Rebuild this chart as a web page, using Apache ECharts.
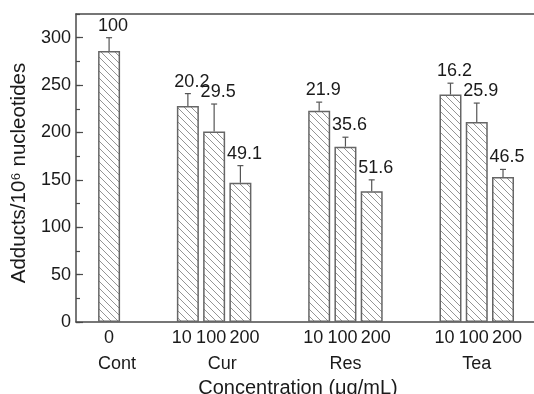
<!DOCTYPE html>
<html>
<head>
<meta charset="utf-8">
<script src="https://cdn.jsdelivr.net/npm/echarts@6/dist/echarts.min.js"></script>
<style>
  html, body { margin: 0; padding: 0; background: #fff; }
  #chart { width: 534px; height: 394px; }
</style>
</head>
<body>
<div id="chart"></div>
<script>
// Treatment groups and the concentration of each bar
const groups = ['Cont', 'Cur', 'Res', 'Tea'];
const barGroup = [0, 1, 1, 1, 2, 2, 2, 3, 3, 3];
const doses = ['0', '10', '100', '200', '10', '100', '200', '10', '100', '200'];
// bar slot on the x axis (gaps between groups)
const xPos = [0, 3, 4, 5, 8, 9, 10, 13, 14, 15];
// adducts per 10^6 nucleotides, upper error and % inhibition shown above bars
const adducts = [286, 228, 201, 147, 223, 185, 138, 240, 211, 153];
const errors = [14, 13, 29, 18, 9, 10, 12, 12, 20, 8];
const inhibition = ['100', '20.2', '29.5', '49.1', '21.9', '35.6', '51.6', '16.2', '25.9', '46.5'];

const X_MIN = -1.26;
const X_MAX = 16.18;
const FONT = '"Liberation Sans", Arial, sans-serif';
const INK = '#1a1a1a';
const LINE = '#4a4a4a';

// diagonal hatch tile for the bars
const tile = document.createElement('canvas');
tile.width = tile.height = 7;
const tc = tile.getContext('2d');
tc.strokeStyle = '#959595';
tc.lineWidth = 1;
tc.beginPath();
[-7, 0, 7].forEach(k => { tc.moveTo(k, 0); tc.lineTo(k + 7, 7); });
tc.stroke();

// role of each bar inside its group, used to spread the crowded tick labels
function role(i) {
  const g = barGroup[i];
  const members = barGroup.map((b, j) => b === g ? j : -1).filter(j => j >= 0);
  if (members.length === 1) return 's';
  const k = members.indexOf(i);
  return k === 0 ? 'l' : (k === members.length - 1 ? 'r' : 'm');
}

// the first two group names sit a little right of their middle bar
const nameStyle = g => (g < 2 ? 'gr' : 'g');

const lbl = extra => Object.assign({ fontSize: 18, fontFamily: FONT, color: INK, lineHeight: 25 }, extra);

const chart = echarts.init(document.getElementById('chart'));

const option = {
  animation: false,
  backgroundColor: '#fff',
  grid: { left: 76, right: 0, top: 14, bottom: 72, outerBoundsMode: 'none' },
  xAxis: [
    {
      type: 'value',
      min: X_MIN,
      max: X_MAX,
      position: 'bottom',
      axisLine: { show: true, onZero: false, lineStyle: { color: LINE, width: 1.5 } },
      axisTick: { show: false },
      splitLine: { show: false },
      axisLabel: {
        // trailing empty label at the axis end so no real label counts as the max one
        customValues: xPos.concat([X_MAX]),
        hideOverlap: false,
        margin: 4,
        color: INK,
        fontFamily: FONT,
        fontSize: 18,
        formatter: v => {
          const i = xPos.indexOf(v);
          if (i < 0) return '';
          const r = role(i);
          let s = '{' + r + '|' + doses[i] + '}';
          if (r === 'm' || r === 's') s += '\n{' + nameStyle(barGroup[i]) + '|' + groups[barGroup[i]] + '}';
          return s;
        },
        rich: {
          l: lbl({ padding: [0, 12, 0, 0] }),
          m: lbl({ padding: [0, 6, 0, 0] }),
          r: lbl({ padding: [0, 0, 0, 8] }),
          s: lbl({}),
          g: lbl({ lineHeight: 27 }),
          gr: lbl({ lineHeight: 27, padding: [0, 0, 0, 16] })
        }
      },
      name: 'Concentration (μg/mL)',
      nameLocation: 'middle',
      nameGap: 49,
      nameTextStyle: { fontSize: 20, fontFamily: FONT, color: INK, padding: [0, 14, 0, 0] }
    },
    {
      type: 'value',
      min: X_MIN,
      max: X_MAX,
      position: 'top',
      axisLine: { show: true, onZero: false, lineStyle: { color: LINE, width: 1.5 } },
      axisTick: { show: false },
      axisLabel: { show: false },
      splitLine: { show: false }
    }
  ],
  yAxis: [
    {
      type: 'value',
      min: 0,
      max: 325,
      interval: 50,
      position: 'left',
      axisLine: { show: true, onZero: false, lineStyle: { color: LINE, width: 1.5 } },
      axisTick: { show: true, inside: true, length: 7, lineStyle: { color: LINE, width: 1.2 } },
      splitLine: { show: false },
      axisLabel: {
        showMaxLabel: false,
        margin: 5,
        color: INK,
        fontFamily: FONT,
        fontSize: 18
      },
      name: 'Adducts/10⁶ nucleotides',
      nameLocation: 'middle',
      nameGap: 45,
      nameTextStyle: { fontSize: 20.5, fontFamily: FONT, color: INK, padding: [0, 10, 0, 0] }
    },
    {
      type: 'value',
      min: 0,
      max: 325,
      interval: 25,
      position: 'left',
      axisLine: { show: false, onZero: false },
      axisTick: { show: true, inside: true, length: 4, lineStyle: { color: LINE, width: 1.2 } },
      axisLabel: { show: false },
      splitLine: { show: false }
    }
  ],
  series: [
    {
      type: 'bar',
      xAxisIndex: 0,
      yAxisIndex: 0,
      barWidth: 22,
      data: xPos.map((x, i) => [x, adducts[i]]),
      itemStyle: {
        color: { image: tile, repeat: 'repeat' },
        borderColor: '#666',
        borderWidth: 1.5
      },
      z: 2
    },
    {
      type: 'custom',
      xAxisIndex: 0,
      yAxisIndex: 0,
      data: xPos.map((x, i) => [x, adducts[i], adducts[i] + errors[i], i]),
      renderItem: (params, api) => {
        const x = api.value(0);
        const base = api.coord([x, api.value(1)]);
        const tip = api.coord([x, api.value(2)]);
        const idx = api.value(3);
        const ls = { stroke: '#555', lineWidth: 1.2 };
        return {
          type: 'group',
          children: [
            { type: 'line', shape: { x1: base[0], y1: base[1], x2: tip[0], y2: tip[1] }, style: ls },
            { type: 'line', shape: { x1: tip[0] - 3, y1: tip[1], x2: tip[0] + 3, y2: tip[1] }, style: ls },
            {
              type: 'text',
              x: tip[0] + 4,
              y: tip[1] - 3,
              style: {
                text: inhibition[idx],
                textAlign: 'center',
                textVerticalAlign: 'bottom',
                fontSize: 18,
                fontFamily: FONT,
                fill: INK
              }
            }
          ]
        };
      },
      z: 3
    }
  ]
};

chart.setOption(option);
</script>
</body>
</html>
